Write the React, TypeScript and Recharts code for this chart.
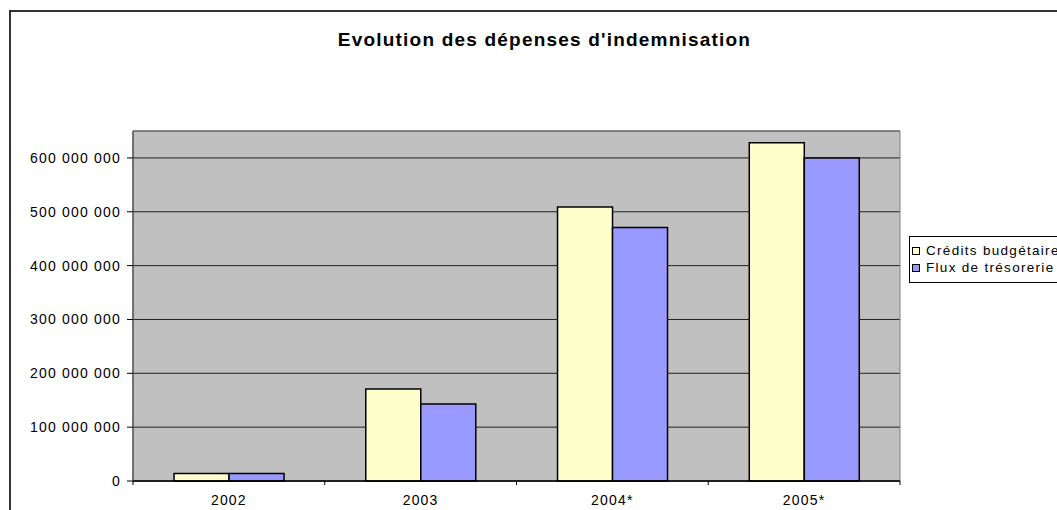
import React from 'react';
import { BarChart, Bar, XAxis, YAxis, CartesianGrid, Legend, ReferenceArea } from 'recharts';

const categories = ['2002', '2003', '2004*', '2005*'];
const creditsBudgetaires = [14000000, 171000000, 509000000, 628000000];
const fluxTresorerie = [14000000, 143000000, 471000000, 600000000];
const seriesNames = ['Crédits budgétaires', 'Flux de trésorerie'];
const seriesColors = ['#FFFFCC', '#9999FF'];
const yTicks = [0, 100000000, 200000000, 300000000, 400000000, 500000000, 600000000];
const yMax = 650000000;
const title = "Evolution des dépenses d'indemnisation";

const data = categories.map((c, i) => ({
  year: c,
  credits: creditsBudgetaires[i],
  flux: fluxTresorerie[i],
}));

const FONT = '"Liberation Sans", Arial, sans-serif';

const fmt = (v: number) => String(v).replace(/\B(?=(\d{3})+(?!\d))/g, ' ');

const CatTick = (props: any) => {
  const { x, y, payload, index } = props;
  const half = (payload && payload.offset) || 0;
  return (
    <g>
      {index === 0 && <line x1={x - half} x2={x - half} y1={y} y2={y + 4} stroke="#000" strokeWidth={1} />}
      <line x1={x + half} x2={x + half} y1={y} y2={y + 4} stroke="#000" strokeWidth={1} />
      <text x={x} y={y + 24} textAnchor="middle" fontSize={14} fontFamily={FONT} fill="#000" letterSpacing={1.2}>
        {payload.value}
      </text>
    </g>
  );
};

const LegendBox = (props: any) => {
  const payload = props.payload || [];
  return (
    <div
      style={{
        border: '1px solid #000',
        background: '#fff',
        width: 170,
        padding: '5px 0 6px 2px',
        fontFamily: FONT,
        fontSize: 13.5,
        letterSpacing: 1.3,
        color: '#000',
        boxSizing: 'border-box',
      }}
    >
      {payload.map((p: any, i: number) => (
        <div key={i} style={{ display: 'flex', alignItems: 'center', height: 17, whiteSpace: 'nowrap' }}>
          <span
            style={{
              display: 'inline-block',
              width: 6,
              height: 6,
              border: '1px solid #000',
              background: p.color,
              marginRight: 6,
            }}
          />
          <span>{p.value}</span>
        </div>
      ))}
    </div>
  );
};

export default function App() {
  return (
    <div style={{ position: 'absolute', left: 0, top: 0, width: 1057, height: 510, overflow: 'hidden', background: '#fff' }}>
      <div
        style={{
          position: 'absolute',
          left: 9,
          top: 10,
          width: 1200,
          height: 700,
          border: '2px solid #333',
          boxSizing: 'border-box',
        }}
      />
      <div
        style={{
          position: 'absolute',
          left: 544.5,
          top: 30,
          transform: 'translateX(-50%)',
          whiteSpace: 'nowrap',
          fontFamily: FONT,
          fontWeight: 'bold',
          fontSize: 19,
          lineHeight: '19px',
          letterSpacing: 1.2,
          color: '#000',
        }}
      >
        {title}
      </div>
      <div style={{ position: 'absolute', left: 0, top: 0 }}>
        <BarChart
          width={1057}
          height={510}
          data={data}
          margin={{ top: 131, right: 157, bottom: 0, left: 0 }}
          barCategoryGap="21.4%"
          barGap={0}
        >
          <CartesianGrid vertical={false} fill="#C0C0C0" stroke="#222" strokeWidth={1} />
          <ReferenceArea
            y1={0}
            y2={yMax}
            fill="none"
            stroke="#808080"
            strokeWidth={1}
            ifOverflow="visible"
          />
          <XAxis
            dataKey="year"
            height={29}
            interval={0}
            tickSize={0}
            tickMargin={0}
            tickLine={false}
            axisLine={{ stroke: '#000', strokeWidth: 1.5 }}
            tick={<CatTick />}
          />
          <YAxis
            width={133}
            domain={[0, yMax]}
            ticks={yTicks}
            interval={0}
            tickFormatter={fmt}
            tickSize={6}
            tickMargin={6}
            axisLine={{ stroke: '#333', strokeWidth: 1 }}
            tickLine={{ stroke: '#000' }}
            tick={{ fontSize: 14, fontFamily: FONT, fill: '#000', letterSpacing: 1.2 }}
          />
          <Bar dataKey="credits" name={seriesNames[0]} fill={seriesColors[0]} stroke="#000" strokeWidth={1.5} isAnimationActive={false} />
          <Bar dataKey="flux" name={seriesNames[1]} fill={seriesColors[1]} stroke="#000" strokeWidth={1.5} isAnimationActive={false} />
          <Legend
            layout="horizontal"
            verticalAlign="middle"
            align="center"
            content={<LegendBox />}
            wrapperStyle={{ position: 'absolute', left: 909, top: 236, width: 170, height: 'auto' }}
          />
        </BarChart>
      </div>
    </div>
  );
}
